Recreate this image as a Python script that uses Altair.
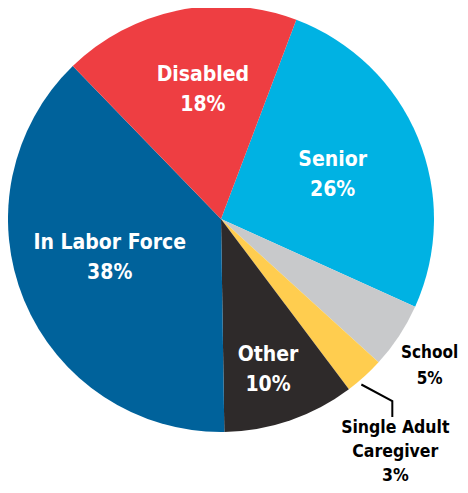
import math
import altair as alt
import pandas as pd

categories = ["Senior", "School", "Single Adult Caregiver", "Other", "In Labor Force", "Disabled"]
values = [26, 5, 3, 10, 38, 18]
labels = ["Senior\n26%", "School\n5%", "Single Adult\nCaregiver\n3%", "Other\n10%", "In Labor Force\n38%", "Disabled\n18%"]
colors = ["#00B2E3", "#C8C9CB", "#FFCD4F", "#2E2A2A", "#00629B", "#EE3E42"]

# style / layout settings
START = math.radians(20.7)
CX, CY, R = 213, 211, 213
FONT = "DejaVu Sans Condensed"
inner_r = {"Senior": 120, "Other": 158, "In Labor Force": 118, "Disabled": 130}
outer_r = {"School": 255, "Single Adult Caregiver": 291}
theta_shift_deg = {"Senior": 1.0, "Other": 1.6, "In Labor Force": 3.1, "Disabled": 3.7,
                   "School": 1.8, "Single Adult Caregiver": 5.5}

df = pd.DataFrame({"cat": categories, "value": values, "label": labels})
total = df["value"].sum()
ends = START + 2 * math.pi * df["value"].cumsum() / total
starts = ends - 2 * math.pi * df["value"] / total
df["mid"] = (starts + ends) / 2
df["tpos"] = df["mid"] + df["cat"].map(theta_shift_deg).fillna(0).map(math.radians)
df["rpos"] = df["cat"].map({**inner_r, **outer_r})
df["order"] = range(len(df))

color_scale = alt.Scale(domain=categories, range=colors)

arcs = alt.Chart(df).mark_arc(outerRadius=R).encode(
    theta=alt.Theta("value:Q", stack=True, scale=alt.Scale(range=[START, START + 2 * math.pi])),
    order=alt.Order("order:Q"),
    color=alt.Color("cat:N", scale=color_scale, legend=None),
    x=alt.value(CX),
    y=alt.value(CY),
)


def text_layer(cats, size, color, lh):
    sub = df[df["cat"].isin(cats)]
    nlines = sub["label"].iloc[0].count("\n") + 1
    return alt.Chart(sub).mark_text(
        font=FONT, fontWeight="bold", fontSize=size, color=color, lineBreak="\n",
        lineHeight=lh, align="center", baseline="middle", dy=-(nlines - 1) * lh / 2,
    ).encode(
        theta=alt.Theta("tpos:Q", scale=None),
        radius=alt.Radius("rpos:Q", scale=None),
        text="label:N",
        x=alt.value(CX),
        y=alt.value(CY),
    )


inner = text_layer(list(inner_r), 21, "white", 30)
school = text_layer(["School"], 17, "black", 26)
careg = text_layer(["Single Adult Caregiver"], 17.5, "black", 24)

# leader line for the caregiver slice, derived from the slice geometry
cg = df[df["cat"] == "Single Adult Caregiver"].iloc[0]
a0 = cg["mid"] + math.radians(2)
p0 = (CX + (R + 4) * math.sin(a0), CY - (R + 4) * math.cos(a0))
lx = CX + cg["rpos"] * math.sin(cg["tpos"])
ly = CY - cg["rpos"] * math.cos(cg["tpos"])
leader = pd.DataFrame({
    "px": [p0[0], lx - 3, lx - 3],
    "py": [p0[1], ly - 51, ly - 35],
    "k": [0, 1, 2],
})
line = alt.Chart(leader).mark_line(color="black", strokeWidth=2).encode(
    x=alt.X("px:Q", scale=None, axis=None),
    y=alt.Y("py:Q", scale=None, axis=None),
    order="k:Q",
)

chart = alt.layer(arcs, inner, school, careg, line).properties(
    width=452, height=477, autosize="none", padding=0,
).configure_view(stroke=None)

chart.save("out.html", embed_options={"renderer": "svg", "actions": False})
